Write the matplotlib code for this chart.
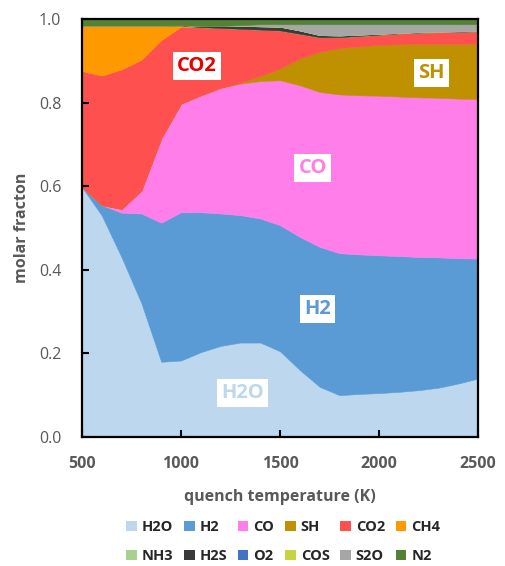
#!/usr/bin/env python3
"""Stacked molar fractions vs. quench temperature."""

import matplotlib
matplotlib.use("Agg")
import matplotlib.pyplot as plt
from matplotlib.patches import Patch

FONT = ["Open Sans", "DejaVu Sans"]
plt.rcParams["font.family"] = FONT

GREY = "#595959"

temps = [500, 600, 700, 800, 900, 1000, 1100, 1200, 1300, 1400, 1500,
         1600, 1700, 1800, 1900, 2000, 2100, 2200, 2300, 2400, 2500]

h2o = [.598, .530, .430, .320, .180, .183, .203, .218, .226, .226, .205,
       .160, .120, .100, .103, .105, .108, .112, .118, .128, .140]
h2 = [.000, .025, .107, .215, .333, .355, .335, .317, .305, .297, .302,
      .319, .335, .340, .334, .330, .325, .319, .312, .300, .287]
co = [.000, .000, .009, .055, .202, .260, .280, .301, .315, .329, .347,
      .363, .371, .380, .381, .382, .382, .382, .382, .382, .382]
sh = [.000, .000, .000, .000, .000, .000, .000, .000, .002, .012, .028,
      .064, .096, .111, .117, .122, .125, .128, .129, .131, .132]
co2 = [.278, .310, .334, .313, .235, .184, .163, .143, .129, .111, .091,
       .059, .035, .026, .025, .024, .026, .027, .028, .029, .030]
ch4 = [.109, .120, .105, .082, .035, .003, .000, .000, .000, .000, .000,
       .000, .000, .000, .000, .000, .000, .000, .000, .000, .000]
nh3 = [0.0] * 21
h2s = [.000, .000, .000, .000, .000, .001, .003, .005, .007, .008, .009,
       .008, .005, .004, .003, .002, .001, .001, .001, .001, .001]
o2 = [0.0] * 21
cos_ = [0.0] * 21
s2o = [.000, .000, .000, .000, .000, .000, .000, .000, .002, .005, .006,
       .015, .026, .027, .025, .023, .021, .019, .018, .017, .016]
n2 = [.015, .015, .015, .015, .015, .014, .016, .016, .014, .012, .012,
      .012, .012, .012, .012, .012, .012, .012, .012, .012, .012]

species = ["H2O", "H2", "CO", "SH", "CO2", "CH4",
           "NH3", "H2S", "O2", "COS", "S2O", "N2"]
series = [h2o, h2, co, sh, co2, ch4, nh3, h2s, o2, cos_, s2o, n2]
colours = ["#BDD7EE", "#5B9BD5", "#FF7EEA", "#BF9000", "#FF5050", "#FF9900",
           "#A9D18E", "#3A3A3A", "#4472C4", "#C5D43F", "#A6A6A6", "#548235"]

# in-plot labels: (text, T, fraction, text colour)
annotations = [
    ("CO2", 1080, 0.888, "#E60000"),
    ("SH", 2265, 0.871, "#BF9000"),
    ("CO", 1665, 0.644, "#FF7EEA"),
    ("H2", 1690, 0.306, "#5B9BD5"),
    ("H2O", 1310, 0.105, "#BDD7EE"),
]

fig = plt.figure(figsize=(5.06, 5.66), dpi=100)
ax = fig.add_axes([0.162, 0.228, 0.783, 0.738])

ax.stackplot(temps, *series, colors=colours, labels=species,
             linewidth=0.4, edgecolor="face")

ax.set_xlim(500, 2500)
ax.set_ylim(0, 1.0)
ax.set_xticks([500, 1000, 1500, 2000, 2500])
ax.set_yticks([0.0, 0.2, 0.4, 0.6, 0.8, 1.0])
ax.set_yticklabels([f"{v:.1f}" for v in ax.get_yticks()])
ax.tick_params(direction="in", length=5, width=1.5, colors="black",
               labelcolor=GREY, labelsize=11.5)
ax.tick_params(axis="x", pad=14)
ax.tick_params(axis="y", pad=15)
for lab in ax.get_xticklabels():
    lab.set_fontweight("bold")
for sp in ax.spines.values():
    sp.set_linewidth(1.6)
    sp.set_color("black")
    sp.set_zorder(5)

ax.set_xlabel("quench temperature (K)", fontsize=11.5, fontweight="bold",
              color=GREY, labelpad=12)
ax.set_ylabel("molar fracton", fontsize=11.5, fontweight="bold",
              color=GREY, labelpad=6)

for text, t, y, c in annotations:
    ax.text(t, y, text, color=c, fontsize=14.5, fontweight="bold",
            ha="center", va="center",
            bbox=dict(facecolor="white", edgecolor="none", pad=3))

# legend filled row by row (matplotlib fills column-wise)
handles = [Patch(facecolor=c, edgecolor="none", label=s)
           for s, c in zip(species, colours)]
order = [0, 6, 1, 7, 2, 8, 3, 9, 4, 10, 5, 11]
fig.legend([handles[i] for i in order], [species[i] for i in order],
           loc="lower center", bbox_to_anchor=(0.56, -0.018), ncol=6,
           frameon=False, handlelength=0.7, handleheight=0.7,
           handletextpad=0.35, columnspacing=0.75, labelspacing=1.0,
           prop={"family": FONT, "weight": "bold", "size": 10.5},
           labelcolor="#262626")

fig.savefig("out.png", dpi=100)
